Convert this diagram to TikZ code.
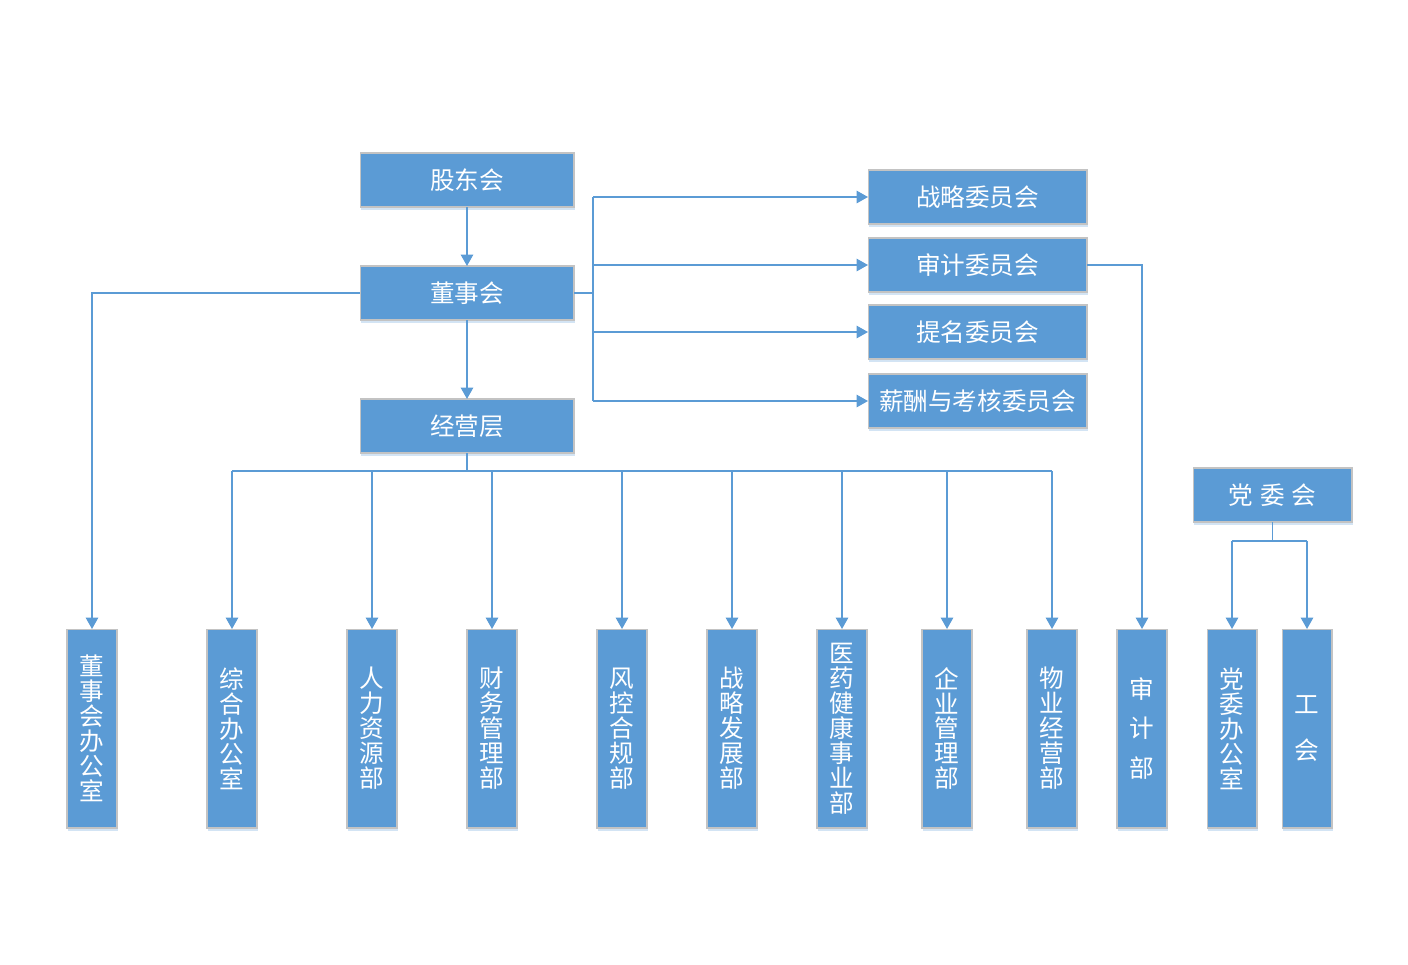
\documentclass[tikz,border=0pt]{standalone}
\usepackage{fontspec}
\setmainfont{Noto Sans CJK SC}
\usetikzlibrary{arrows.meta}
\usetikzlibrary{shadows}
\definecolor{boxblue}{HTML}{5B9BD5}
\definecolor{boxedge}{HTML}{C3C3C3}
\definecolor{lineblue}{HTML}{5B9BD5}

\begin{document}
\begin{tikzpicture}[x=0.02cm,y=-0.02cm,
  box/.style={draw=boxedge,line width=0.6pt,fill=boxblue,text=white,inner sep=0pt,outer sep=0pt,
    font=\fontsize{14}{14.2}\selectfont,align=center,
    drop shadow={shadow xshift=0.8pt,shadow yshift=-1.6pt,fill=boxblue!45!white,opacity=0.6}},
  head/.style={box,minimum width=4.28cm,minimum height=1.08cm},
  comm/.style={box,minimum width=4.38cm,minimum height=1.08cm},
  dept/.style={box,minimum width=1.0cm,minimum height=3.98cm},
  conn/.style={draw=lineblue,line width=1.1pt},
  arr/.style={conn,-{Triangle[length=6.5pt,width=7pt]}}]
\useasboundingbox (0,0) rectangle (1408,964);
% top of the chain
\node[head] (gdh) at (467,180) {股东会};
\node[head] (dsh) at (467,293) {董事会};
\node[head] (jyc) at (467,426) {经营层};
% committees
\node[comm] (zlw) at (977.5,197) {战略委员会};
\node[comm] (sjw) at (977.5,265) {审计委员会};
\node[comm] (tmw) at (977.5,332) {提名委员会};
\node[comm] (xcw) at (977.5,401) {薪酬与考核委员会};
% party committee
\node[box,minimum width=3.18cm,minimum height=1.08cm] (dwh) at (1272.5,495) {党\hspace{4pt}委\hspace{4pt}会};
% departments
\foreach \n/\x/\t in {b1/92/{董\\事\\会\\办\\公\\室},b2/232/{综\\合\\办\\公\\室},
  b3/372/{人\\力\\资\\源\\部},b4/492/{财\\务\\管\\理\\部},b5/622/{风\\控\\合\\规\\部},
  b6/732/{战\\略\\发\\展\\部},b7/842/{医\\药\\健\\康\\事\\业\\部},b8/947/{企\\业\\管\\理\\部},
  b9/1052/{物\\业\\经\\营\\部},b10/1142/{审\\[8.5pt]计\\[8.5pt]部},
  b11/1232/{党\\委\\办\\公\\室},b12/1307/{工\\[12.5pt]会}}
  \node[dept] (\n) at (\x,728.5) {\t};
% draw main chain
\draw[arr] (gdh) -- (dsh);
\draw[arr] (dsh) -- (jyc);
\draw[arr] (dsh.west) -| (b1.north);
% draw committee branch
\coordinate (cj) at (593,293);
\draw[conn] (dsh.east) -- (cj);
\draw[conn] (cj |- zlw.west) -- (cj |- xcw.west);
\foreach \c in {zlw,sjw,tmw,xcw}
  \draw[arr] (cj |- \c.west) -- (\c.west);
\draw[arr] (sjw.east) -| (b10.north);
% draw management branch
\coordinate (bj) at (467,471);
\draw[conn] (jyc.south) -- (bj);
\draw[conn] (bj -| b2.north) -- (bj -| b9.north);
\foreach \d in {b2,b3,b4,b5,b6,b7,b8,b9}
  \draw[arr] (bj -| \d.north) -- (\d.north);
% draw party branch
\coordinate (dj) at (1272.5,541);
\draw[conn] (dwh.south) -- (dj);
\draw[conn] (dj -| b11.north) -- (dj -| b12.north);
\foreach \d in {b11,b12}
  \draw[arr] (dj -| \d.north) -- (\d.north);
\end{tikzpicture}
\end{document}
